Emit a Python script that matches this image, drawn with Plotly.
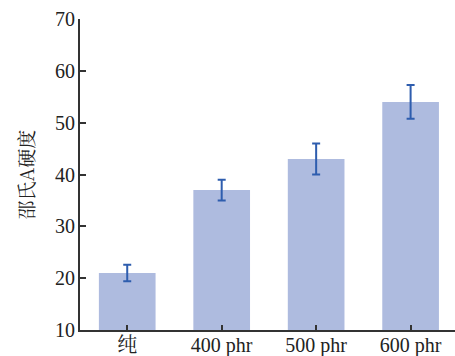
import plotly.graph_objects as go

categories = ["纯", "400 phr", "500 phr", "600 phr"]
hardness = [21, 37, 43, 54]
errors = [1.6, 2.0, 3.0, 3.25]
y_ticks = [10, 20, 30, 40, 50, 60, 70]
y_title = "邵氏A硬度"

font_family = "Liberation Serif, Noto Serif CJK SC, Noto Sans CJK SC, serif"

fig = go.Figure()
fig.add_trace(go.Bar(
    x=list(range(len(categories))),
    y=hardness,
    width=0.6,
    marker=dict(color="#AEBBDF", line=dict(width=0)),
    error_y=dict(type="data", array=errors, visible=True,
                 color="#2E5DAE", thickness=2, width=4),
))

fig.update_layout(
    width=455, height=356,
    margin=dict(l=80, r=0, t=19, b=26, autoexpand=False),
    plot_bgcolor="white", paper_bgcolor="white",
    font=dict(family=font_family, size=20, color="#222"),
    showlegend=False,
    bargap=0.4,
)
fig.update_xaxes(
    tickmode="array", tickvals=list(range(len(categories))), ticktext=categories,
    range=[-0.5, 3.47], showline=True, linecolor="#333", linewidth=2,
    ticks="inside", ticklen=5, tickwidth=2, tickcolor="#333",
    showgrid=False, zeroline=False, automargin=False,
    ticklabelstandoff=-4,
)
fig.update_yaxes(
    range=[10, 70], tickvals=y_ticks, showline=True, linecolor="#333", linewidth=2,
    ticks="inside", ticklen=6, tickwidth=2, tickcolor="#333",
    showgrid=False, zeroline=False, automargin=False,
    ticklabelstandoff=-1,
)
fig.add_annotation(
    text=y_title, xref="paper", yref="paper", x=(25 - 80) / 375, y=0.5,
    xanchor="center", yanchor="middle", textangle=-90, showarrow=False,
    font=dict(size=19, family="Noto Serif CJK SC, Noto Sans CJK SC, Liberation Serif, serif"),
)

fig.write_html("out.html", config={"displayModeBar": False},
               post_script="document.body.style.margin='0';document.body.style.padding='0';")
